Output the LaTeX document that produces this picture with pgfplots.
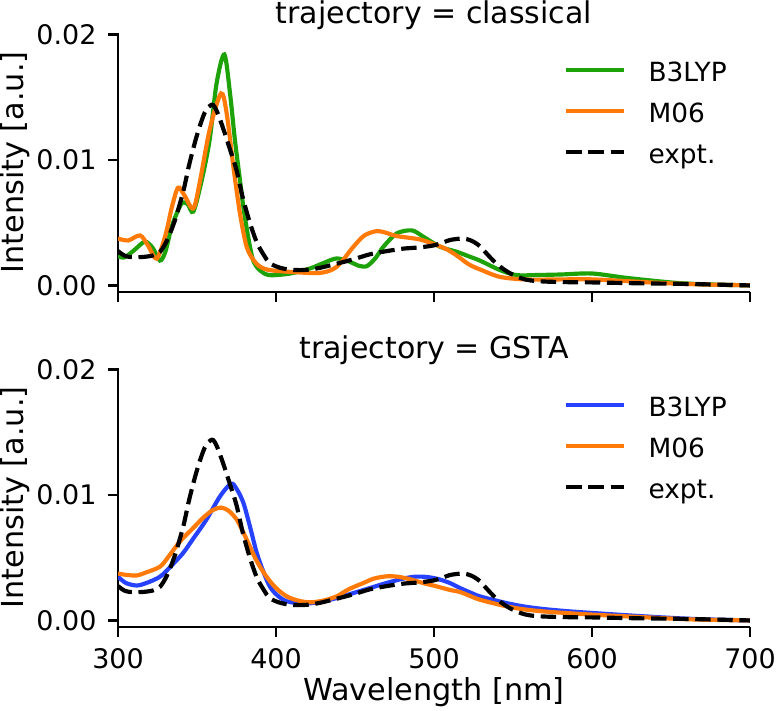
\documentclass[border=0pt]{standalone}
\usepackage{fontspec}
\setmainfont{DejaVu Sans}
\usepackage{pgfplots}
\usepackage{pgfplotstable}
\pgfplotsset{compat=1.18}

\definecolor{cgreen}{RGB}{30,162,10}
\definecolor{corange}{RGB}{255,122,8}
\definecolor{cblue}{RGB}{38,66,255}

% classical, B3LYP
\pgfplotstableread{
x y
300 0.00235
304 0.00225
310 0.0028
317 0.0035
322 0.0030
326.5 0.0020
330 0.0027
334 0.0047
340 0.0065
344 0.0065
347.7 0.0059
353 0.0084
358 0.0116
362.4 0.0161
367.3 0.0184
370.9 0.0153
374 0.0116
377.2 0.0084
379.3 0.0063
382.5 0.0038
385.6 0.0020
390 0.0012
396 0.00084
409 0.00097
421.5 0.00137
430 0.0018
438.4 0.00217
446.8 0.0019
452 0.0016
457.4 0.00155
463 0.0022
468 0.0031
476.4 0.00416
486 0.0044
493.2 0.0039
503.8 0.0031
514.4 0.0027
522.8 0.0023
529 0.0020
541.8 0.00124
552.3 0.00084
565 0.00085
580 0.00089
600 0.00097
622 0.00062
653.6 0.00022
680 0.00008
700 0.00003
}\tclassB

% classical, M06
\pgfplotstableread{
x y
300 0.00375
306.5 0.0036
314 0.0040
319 0.0032
324.5 0.00215
330 0.0040
334 0.0062
338 0.0078
342 0.0072
347.7 0.00615
352 0.0084
358 0.0124
365.2 0.0153
368.8 0.0137
373 0.0095
377.2 0.00575
381.4 0.0031
386 0.0020
390 0.0015
396 0.00124
409 0.0011
427.8 0.00102
438.4 0.0015
449 0.0031
456 0.0040
463.7 0.00434
470 0.0042
476.4 0.00395
491 0.00368
501.7 0.00323
508 0.0029
514.4 0.0024
522 0.0017
529 0.0013
541.8 0.0007
558.7 0.00049
580 0.0005
600.8 0.0005
643 0.00022
670 0.0001
700 0.00003
}\tclassM

% experiment
\pgfplotstableread{
x y
300 0.00275
304 0.0024
308 0.00228
315 0.00228
322 0.0024
326.6 0.0027
331 0.0036
336 0.0052
341.3 0.0075
345 0.0096
349.8 0.0119
355 0.0138
359.5 0.0144
362.5 0.0139
366.6 0.0125
371 0.0108
375 0.0092
379 0.0070
383.5 0.0050
388 0.0034
392.5 0.0024
396 0.0018
402 0.00145
409 0.00127
418 0.00125
427 0.0014
438.4 0.00175
449 0.0021
459.5 0.0025
470 0.00275
480.6 0.00295
491 0.00305
499.6 0.0032
505 0.0034
510 0.00363
517 0.00375
521 0.0037
525 0.0035
529 0.00315
533 0.0026
537.5 0.0020
542 0.0015
548 0.0010
555 0.0006
561 0.00042
570 0.00033
585 0.00028
600.8 0.00026
630 0.00019
664 0.00013
700 0.00002
}\texpt

% GSTA, B3LYP
\pgfplotstableread{
x y
300 0.0035
305 0.0030
311.8 0.0028
318 0.0030
326.6 0.0035
334 0.0044
341.3 0.0054
348 0.0066
356 0.00805
364.6 0.0099
371.5 0.0109
375 0.0105
379.3 0.0094
383.5 0.0075
387.8 0.0054
392 0.0039
396.2 0.0027
401 0.0020
406.8 0.00155
417.3 0.00135
428 0.0015
438.4 0.0018
449 0.0022
459.5 0.0026
470 0.0030
480.6 0.00335
488 0.0035
495.4 0.00348
503 0.0033
510 0.0030
516.5 0.0026
522.8 0.00225
529 0.00194
543.9 0.00146
556 0.00115
569.2 0.00093
585 0.00075
600.8 0.00061
632.5 0.00035
664 0.00014
700 0.00002
}\tgstaB

% GSTA, M06
\pgfplotstableread{
x y
300 0.00375
305 0.00365
311.8 0.0036
318 0.00385
326.6 0.0043
332 0.0051
339.2 0.0063
347 0.0073
354 0.0082
360 0.0088
365.2 0.0090
370 0.00875
375.1 0.00805
379 0.0071
383.5 0.0059
388 0.0047
394 0.0035
400 0.0026
406.8 0.00194
414 0.0016
421.5 0.00146
430 0.0016
438.4 0.00194
446 0.0025
455.3 0.0030
462 0.00335
470 0.00353
477 0.0035
484.8 0.0033
493 0.0030
501.7 0.00273
510 0.00245
516.5 0.00228
522.8 0.00197
529 0.00167
543.9 0.0012
556 0.00092
569.2 0.00074
585 0.0006
600.8 0.00048
632.5 0.00028
664 0.0001
700 0.00002
}\tgstaM

\pgfplotsset{
  myax/.style={
    scale only axis, width=227.52pt, height=93.2pt,
    xmin=300, xmax=700, ymin=-0.0005, ymax=0.0201,
    axis x line*=bottom, axis y line*=left,
    axis line style={line width=1pt, -},
    tick align=outside, major tick length=3.6pt,
    every tick/.style={line width=1pt, black},
    xtick={300,400,500,600,700},
    ytick={0,0.01,0.02}, yticklabels={0.00,0.01,0.02},
    scaled y ticks=false, scaled x ticks=false,
    yticklabel style={anchor=east, inner sep=0pt, xshift=-3.96pt, font=\fontsize{9.7}{11}\selectfont},
    xticklabel style={anchor=north, inner sep=0pt, yshift=-3.85pt, font=\fontsize{9.7}{11}\selectfont},
    ylabel={Intensity [a.u.]},
    every axis y label/.style={at={(rel axis cs:-0.163,0.5)}, rotate=90, anchor=center, inner sep=0pt, font=\fontsize{10.9}{12}\selectfont},
    every axis title/.style={at={(0.5,1)}, anchor=base, yshift=3.4pt, inner sep=0pt, font=\fontsize{10.8}{12}\selectfont},
    legend style={at={(0.7062,0.899)}, anchor=north west, draw=none, fill=none,
      inner sep=0pt, outer sep=0pt, row sep=6.76pt, column sep=7.92pt,
      font=\fontsize{9.5}{11}\selectfont,
      nodes={inner sep=0pt, text height=8pt, text depth=0pt}, cells={anchor=west}},
    legend image code/.code={\draw[#1] (0pt,0pt) -- (20.9pt,0pt);},
    clip=true,
  },
  sline/.style={line width=1.5pt, smooth},
  dline/.style={line width=1.5pt, smooth, black, dash pattern=on 5.55pt off 2.4pt},
}

\begin{document}
\begin{tikzpicture}
\useasboundingbox (0,0) rectangle (279.36pt,255.96pt);
\begin{axis}[myax, at={(42.48pt,150.84pt)}, anchor=south west,
  title={trajectory = classical}, xticklabels={}]
\addplot[sline, cgreen] table[x=x,y=y] {\tclassB};
\addlegendentry{B3LYP}
\addplot[sline, corange] table[x=x,y=y] {\tclassM};
\addlegendentry{M06}
\addplot[dline] table[x=x,y=y] {\texpt};
\addlegendentry{expt.}
\end{axis}
\begin{axis}[myax, at={(42.48pt,30.24pt)}, anchor=south west,
  title={trajectory = GSTA}, xticklabels={300,400,500,600,700},
  xlabel={Wavelength [nm]},
  xlabel style={at={(rel axis cs:0.5,0)}, anchor=base, yshift=-26.6pt, inner sep=0pt, font=\fontsize{10.9}{12}\selectfont}]
\addplot[sline, cblue] table[x=x,y=y] {\tgstaB};
\addlegendentry{B3LYP}
\addplot[sline, corange] table[x=x,y=y] {\tgstaM};
\addlegendentry{M06}
\addplot[dline] table[x=x,y=y] {\texpt};
\addlegendentry{expt.}
\end{axis}
\end{tikzpicture}
\end{document}
